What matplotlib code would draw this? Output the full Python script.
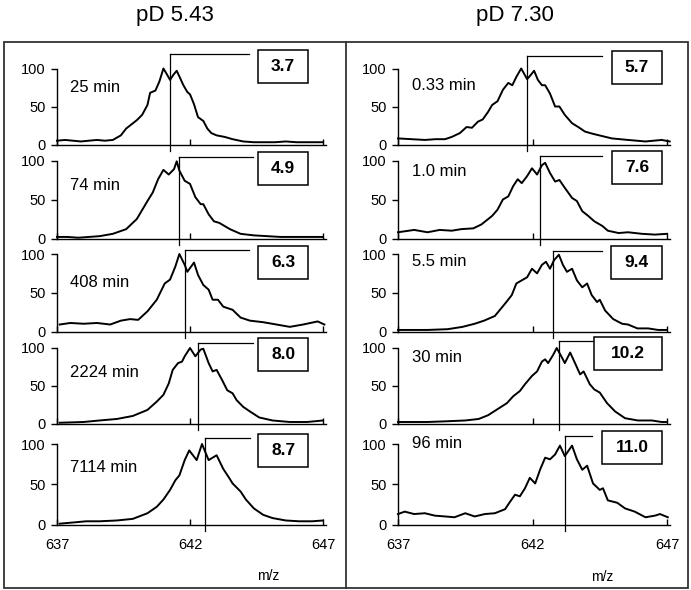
import matplotlib.pyplot as plt
from matplotlib.patches import Rectangle
from matplotlib.lines import Line2D

plt.rcParams['font.family'] = ['Liberation Sans', 'DejaVu Sans']

W, H = 691, 590

# ---- pD 5.43 (left column) ----
times_543 = ['25 min', '74 min', '408 min', '2224 min', '7114 min']
deut_543 = ['3.7', '4.9', '6.3', '8.0', '8.7']
centroid_543 = [641.25, 641.59, 641.81, 642.30, 642.56]

mz_543_25 = [637.0, 637.3, 637.6, 637.9, 638.2, 638.5, 638.8, 639.1, 639.4, 639.6, 640.0, 640.2, 640.4, 640.5,
             640.7, 640.85, 641.0, 641.12, 641.25, 641.38, 641.5, 641.62, 641.75, 641.9, 642.0, 642.15, 642.3,
             642.5, 642.65, 642.8, 643.0, 643.3, 643.6, 644.0, 644.4, 644.8, 645.2, 645.6, 646.0, 646.4, 646.8, 647.0]
int_543_25 = [5, 6, 5, 4, 5, 6, 5, 6, 12, 21, 32, 39, 52, 68, 71, 83, 100, 93, 85, 92, 97, 88, 78, 69,
              66, 53, 36, 31, 21, 15, 12, 10, 7, 4, 3, 3, 3, 4, 3, 3, 3, 3]

mz_543_74 = [637.0, 637.4, 637.8, 638.2, 638.6, 639.1, 639.6, 640.0, 640.4, 640.6, 640.8, 641.0, 641.2, 641.4,
             641.5, 641.6, 641.8, 642.0, 642.2, 642.4, 642.5, 642.7, 642.9, 643.1, 643.5, 643.9, 644.4, 644.9,
             645.4, 645.9, 646.4, 647.0]
int_543_74 = [2, 2, 1, 2, 3, 6, 12, 25, 48, 59, 76, 88, 82, 89, 99, 87, 74, 70, 53, 44, 44, 31, 22, 20,
              12, 6, 4, 3, 2, 2, 2, 2]

mz_543_408 = [637.1, 637.5, 638.0, 638.5, 639.0, 639.4, 639.75, 640.05, 640.4, 640.75, 641.05, 641.25, 641.45,
              641.6, 641.8, 641.9, 642.15, 642.3, 642.5, 642.7, 642.85, 643.05, 643.25, 643.6, 643.9, 644.25,
              644.75, 645.25, 645.75, 646.25, 646.8, 647.05]
int_543_408 = [9, 11, 10, 11, 9, 14, 16, 15, 26, 41, 62, 67, 84, 100, 86, 77, 89, 73, 60, 54, 41, 41, 32, 28,
               18, 14, 12, 9, 6, 9, 13, 9]

mz_543_2224 = [637.1, 638.0, 638.6, 639.25, 639.85, 640.4, 640.75, 641.0, 641.2, 641.35, 641.55, 641.7, 641.8,
               642.0, 642.2, 642.4, 642.5, 642.7, 642.85, 643.0, 643.2, 643.4, 643.6, 643.75, 644.0, 644.25,
               644.6, 645.1, 645.75, 646.4, 647.0]
int_543_2224 = [1, 2, 4, 6, 10, 18, 29, 38, 53, 71, 80, 82, 89, 100, 89, 98, 99, 80, 69, 71, 58, 44, 40, 31,
                22, 16, 8, 4, 2, 2, 4]

mz_543_7114 = [637.1, 638.1, 638.6, 639.25, 639.85, 640.4, 640.75, 641.0, 641.25, 641.45, 641.6, 641.8, 641.97,
               642.25, 642.45, 642.7, 643.0, 643.25, 643.45, 643.6, 643.9, 644.1, 644.4, 644.75, 645.1, 645.6,
               646.1, 646.6, 647.0]
int_543_7114 = [1, 4, 4, 5, 7, 14, 22, 31, 43, 55, 61, 80, 92, 80, 100, 80, 86, 69, 59, 51, 41, 31, 20, 12,
                8, 5, 4, 4, 5]

# ---- pD 7.30 (right column) ----
times_730 = ['0.33 min', '1.0 min', '5.5 min', '30 min', '96 min']
deut_730 = ['5.7', '7.6', '9.4', '10.2', '11.0']
centroid_730 = [641.80, 642.28, 642.75, 642.99, 643.21]

mz_730_033 = [637.0, 637.5, 638.0, 638.4, 638.75, 639.0, 639.3, 639.55, 639.75, 639.97, 640.15, 640.35, 640.5,
              640.7, 640.9, 641.1, 641.25, 641.4, 641.58, 641.8, 641.9, 642.06, 642.2, 642.35, 642.47, 642.65,
              642.84, 643.0, 643.2, 643.47, 643.7, 643.95, 644.25, 644.6, 644.95, 645.55, 646.2, 646.8, 647.1]
int_730_033 = [8, 7, 6, 7, 7, 10, 15, 23, 22, 30, 33, 43, 52, 57, 72, 81, 78, 89, 100, 86, 90, 97, 85, 78,
               78, 67, 50, 50, 39, 28, 23, 17, 14, 11, 8, 6, 4, 6, 4]

mz_730_1 = [637.0, 637.6, 638.1, 638.55, 639.0, 639.35, 639.8, 640.1, 640.5, 640.7, 640.9, 641.1, 641.28,
            641.45, 641.6, 641.8, 641.98, 642.17, 642.35, 642.47, 642.65, 642.84, 643.0, 643.2, 643.47, 643.65,
            643.85, 644.07, 644.3, 644.6, 644.8, 645.2, 645.55, 646.07, 646.55, 647.0]
int_730_1 = [8, 11, 8, 11, 10, 12, 13, 18, 29, 37, 50, 54, 67, 76, 71, 80, 90, 82, 94, 97, 84, 73, 75, 65,
             52, 48, 35, 29, 22, 16, 10, 7, 8, 6, 5, 6]

mz_730_55 = [637.0, 638.1, 638.85, 639.4, 639.85, 640.2, 640.6, 640.98, 641.23, 641.4, 641.6, 641.8, 641.98,
             642.17, 642.35, 642.5, 642.65, 642.8, 642.98, 643.13, 643.28, 643.47, 643.65, 643.85, 644.03,
             644.2, 644.4, 644.5, 644.7, 645.0, 645.33, 645.55, 645.9, 646.3, 646.67, 647.0]
int_730_55 = [2, 2, 3, 6, 10, 14, 20, 36, 47, 62, 66, 70, 81, 75, 86, 90, 81, 92, 99, 86, 77, 81, 66, 57,
              62, 47, 38, 41, 27, 16, 10, 9, 4, 4, 2, 2]

mz_730_30 = [637.0, 638.1, 638.85, 639.5, 640.0, 640.35, 640.7, 641.05, 641.28, 641.53, 641.72, 641.98, 642.17,
             642.35, 642.47, 642.58, 642.77, 642.9, 643.1, 643.2, 643.4, 643.58, 643.77, 643.9, 644.13, 644.3,
             644.5, 644.77, 645.07, 645.44, 645.92, 646.44, 646.8, 647.0]
int_730_30 = [2, 2, 3, 4, 6, 11, 19, 27, 36, 43, 52, 63, 69, 82, 85, 80, 91, 100, 87, 80, 94, 80, 65, 69,
              52, 45, 41, 27, 16, 7, 4, 4, 2, 2]

mz_730_96 = [637.0, 637.25, 637.6, 638.0, 638.37, 638.75, 639.1, 639.5, 639.85, 640.23, 640.6, 640.98, 641.16,
             641.35, 641.53, 641.72, 641.9, 642.1, 642.28, 642.47, 642.65, 642.84, 643.02, 643.2, 643.47, 643.65,
             643.85, 644.03, 644.25, 644.5, 644.62, 644.8, 645.15, 645.44, 645.8, 646.2, 646.55, 646.74, 647.03]
int_730_96 = [13, 16, 13, 14, 11, 10, 9, 14, 10, 13, 14, 19, 28, 37, 35, 45, 58, 51, 68, 83, 81, 87, 98, 85,
              98, 81, 68, 73, 51, 43, 45, 30, 27, 20, 16, 9, 11, 13, 9]

spectra_543 = [(mz_543_25, int_543_25), (mz_543_74, int_543_74), (mz_543_408, int_543_408),
               (mz_543_2224, int_543_2224), (mz_543_7114, int_543_7114)]
spectra_730 = [(mz_730_033, int_730_033), (mz_730_1, int_730_1), (mz_730_55, int_730_55),
               (mz_730_30, int_730_30), (mz_730_96, int_730_96)]

# ---- layout (pixels) ----
rows_px = [(68.5, 144.5), (160.5, 238.5), (254, 331.5), (348, 423.5), (444, 524.5)]
columns = [
    dict(x0=57, x1=325.7, spectra=spectra_543, times=times_543, deut=deut_543, cent=centroid_543,
         label_y=[0.75, 0.68, 0.63, 0.67, 0.71], top=[119, 105, 105, 107, 107],
         hline_end=[644.2, 644.35, 644.2, 644.35, 644.25], box_right=646.44,
         box_w=[50, 50, 50, 50, 50], px_per_mz=26.6),
    dict(x0=398, x1=669.7, spectra=spectra_730, times=times_730, deut=deut_730, cent=centroid_730,
         label_y=[0.78, 0.86, 0.90, 0.88, 1.0], top=[117, 106, 104, 109, 110],
         hline_end=[644.6, 644.6, 644.6, 644.25, 644.2], box_right=646.81,
         box_w=[50, 50, 51, 68, 60], px_per_mz=26.9),
]

fig = plt.figure(figsize=(W / 100, H / 100), dpi=100)

for col in columns:
    for i, (ytop, ybot) in enumerate(rows_px):
        ax = fig.add_axes([col['x0'] / W, 1 - ybot / H, (col['x1'] - col['x0']) / W, (ybot - ytop) / H])
        mz, inten = col['spectra'][i]
        ax.plot(mz, inten, color='black', lw=1.4, clip_on=False, solid_joinstyle='round')
        ax.set_xlim(637, 647.1)
        ax.set_ylim(0, 100)
        for s in ['top', 'right']:
            ax.spines[s].set_visible(False)
        for s in ['left', 'bottom']:
            ax.spines[s].set_linewidth(1.0)
        ax.set_yticks([0, 50, 100])
        ax.set_yticklabels(['0', '50', '100'])
        ax.tick_params(axis='y', direction='out', length=4, width=1, pad=4, labelsize=10.5)
        ax.set_xticks([637, 642, 647])
        ax.tick_params(axis='x', direction='in', length=4, width=1, pad=10, labelsize=10.5)
        if i < 4:
            ax.set_xticklabels([])

        row_h = ybot - ytop
        c = col['cent'][i]
        top = col['top'][i]
        ax.plot([c, c], [-8, top], color='black', lw=0.9, clip_on=False)
        ax.plot([c, col['hline_end'][i]], [top, top], color='black', lw=0.9, clip_on=False)

        # boxed deuterium number
        bw = col['box_w'][i] / col['px_per_mz']
        bh = 33 / row_h * 100
        yc = top - 12 / row_h * 100
        ax.add_patch(Rectangle((col['box_right'] - bw, yc - bh / 2), bw, bh, fc='white', ec='black',
                               lw=1.1, clip_on=False))
        ax.text(col['box_right'] - bw / 2, yc, col['deut'][i], ha='center', va='center',
                fontsize=12.5, fontweight='bold')

        ax.text(0.05, col['label_y'][i], col['times'][i], transform=ax.transAxes,
                ha='left', va='center', fontsize=12)

# frame and titles
fig.add_artist(Rectangle((4 / W, 1 - 588 / H), 684 / W, 546 / H, transform=fig.transFigure,
                         fill=False, ec='#333333', lw=1.3))
fig.add_artist(Line2D([346 / W, 346 / W], [1 - 42 / H, 1 - 588 / H], transform=fig.transFigure,
                      color='#333333', lw=1.3))
fig.text(175 / W, 1 - 16 / H, 'pD 5.43', ha='center', va='center', fontsize=16)
fig.text(515 / W, 1 - 16 / H, 'pD 7.30', ha='center', va='center', fontsize=16)
fig.text(268 / W, 1 - 576 / H, 'm/z', ha='center', va='center', fontsize=10)
fig.text(602 / W, 1 - 577 / H, 'm/z', ha='center', va='center', fontsize=10)

fig.savefig('out.png', dpi=100)
